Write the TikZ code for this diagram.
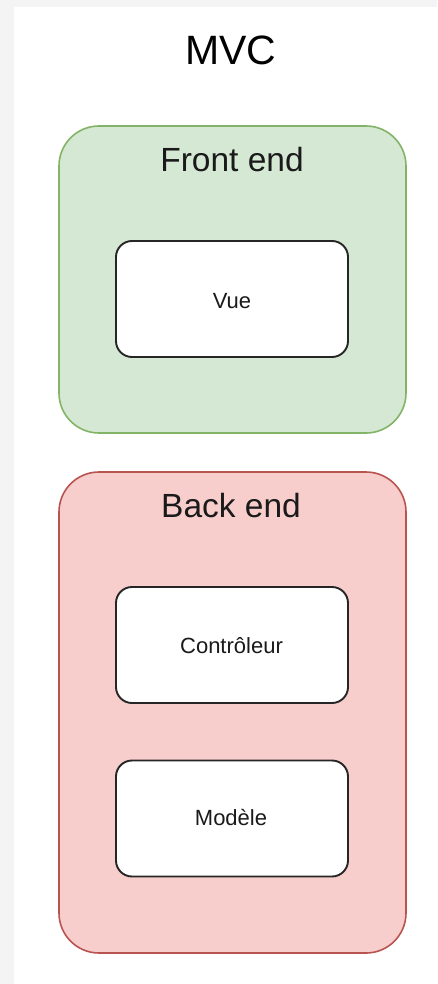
\documentclass[tikz,border=0pt]{standalone}
\usepackage{fontspec}
\setmainfont{Liberation Sans}
\definecolor{bggray}{HTML}{F4F4F4}
\definecolor{gfill}{HTML}{D5E8D4}
\definecolor{gline}{HTML}{82B366}
\definecolor{rfill}{HTML}{F8CECC}
\definecolor{rline}{HTML}{B85450}
\definecolor{ink}{HTML}{1A1A1A}
\begin{document}
\begin{tikzpicture}[x=1pt,y=-1pt,
  groupbox/.style={draw, line width=1.6pt, rounded corners=40pt, inner sep=0pt, outer sep=0pt,
    minimum width=347pt, text=ink},
  itembox/.style={draw=black!85, fill=white, line width=1.9pt, rounded corners=16pt, inner sep=0pt,
    minimum width=232pt, minimum height=116pt},
  itemtext/.style={anchor=base, inner sep=0pt, text=ink, font=\fontsize{22}{26}\selectfont},
  grouptext/.style={anchor=base, inner sep=0pt, text=ink, font=\fontsize{33.5}{40}\selectfont},
  titletext/.style={anchor=base, inner sep=0pt, text=black, font=\fontsize{41}{48}\selectfont}]
\useasboundingbox (0,0) rectangle (437,984);
\fill[bggray] (0,0) rectangle (437,984);
\fill[white] (14,7) rectangle (437,984);
\node[titletext] (title) at (231,65) {MVC};
% Front end
\node[groupbox, draw=gline, fill=gfill, minimum height=307pt] (front) at (232.5,279.5) {};
\node[grouptext] (frontlbl) at (232,172) {Front end};
\node[itembox] (vue) at (232,299) {};
\node[itemtext] (vuelbl) at (232,308) {Vue};
% Back end
\node[groupbox, draw=rline, fill=rfill, minimum height=481pt] (back) at (232.5,712.5) {};
\node[grouptext] (backlbl) at (231,517) {Back end};
\node[itembox] (ctrl) at (232,645) {};
\node[itemtext] (ctrllbl) at (231.5,653) {Contrôleur};
\node[itembox] (model) at (232,818.5) {};
\node[itemtext] (modellbl) at (231,825) {Modèle};
\end{tikzpicture}
\end{document}
